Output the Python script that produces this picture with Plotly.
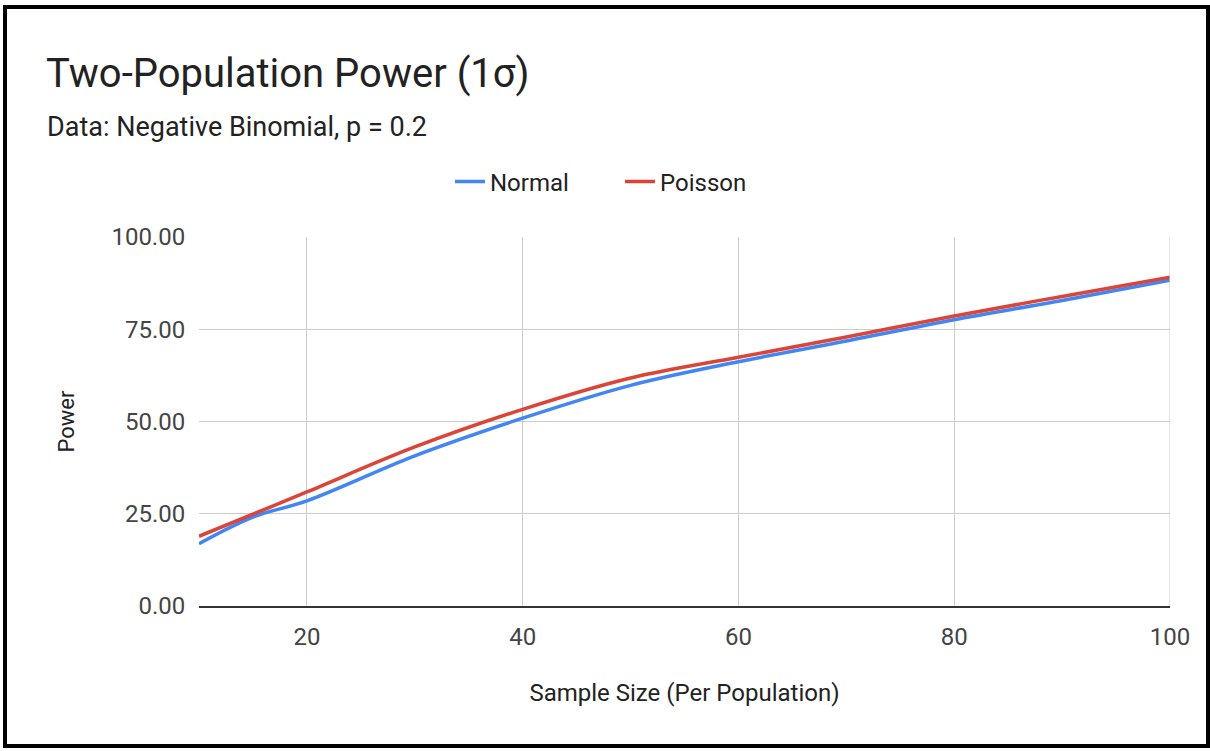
import plotly.graph_objs as go

# ------------------ dati ------------------
sample_size = [10, 15, 20, 30, 40, 50, 60, 70, 80, 90, 100]
power_normal = [16.9, 24.1, 28.5, 40.7, 50.9, 59.8, 66.2, 71.8, 77.6, 82.8, 88.3]
power_poisson = [18.9, 24.9, 30.9, 43.1, 53.3, 61.8, 67.4, 72.9, 78.6, 83.9, 89.1]
y_ticks = [0, 25, 50, 75, 100]
x_ticks = [20, 40, 60, 80, 100]

W, H = 1210, 751
L, R, T, B = 199, 40, 237, 145
pw, ph = W - L - R, H - T - B

FONT = "Roboto, Arial, sans-serif"

fig = go.Figure()
fig.add_trace(go.Scatter(
    x=sample_size, y=power_normal, name="Normal", mode="lines",
    line=dict(color="#4285F4", width=3.5, shape="spline", smoothing=1)
))
fig.add_trace(go.Scatter(
    x=sample_size, y=power_poisson, name="Poisson", mode="lines",
    line=dict(color="#DB4437", width=3.5, shape="spline", smoothing=1)
))

fig.update_layout(
    width=W, height=H,
    margin=dict(l=L, r=R, t=T, b=B),
    paper_bgcolor="white", plot_bgcolor="white",
    font=dict(family=FONT, size=24, color="#222222"),
    showlegend=True,
    legend=dict(orientation="h", x=(620 - L) / pw, xanchor="center",
                y=1.0 + (T - 182) / ph, yanchor="middle",
                font=dict(size=24, color="#222222"),
                itemwidth=30, entrywidth=125, traceorder="normal"),
    xaxis=dict(
        range=[10, 100], tickvals=x_ticks, showgrid=True, gridcolor="#cccccc",
        gridwidth=1, zeroline=False, showline=True, linecolor="#333333", linewidth=2,
        ticks="outside", ticklen=8, tickcolor="rgba(0,0,0,0)",
        tickfont=dict(size=24, color="#444444"),
        title=dict(text="Sample Size (Per Population)", font=dict(size=24, color="#222222"),
                   standoff=34),
    ),
    yaxis=dict(
        range=[0, 100], tickvals=y_ticks, tickformat=".2f", showgrid=True,
        gridcolor="#cccccc", gridwidth=1, zeroline=False, showline=False,
        ticks="outside", ticklen=8, tickcolor="rgba(0,0,0,0)",
        tickfont=dict(size=24, color="#444444"),
        title=dict(text="Power", font=dict(size=22, color="#222222"), standoff=30),
    ),
)

# titolo e sottotitolo
fig.add_annotation(text="Two-Population Power (1σ)", xref="paper", yref="paper",
                   x=(44 - L) / pw, y=1 + (T - 73) / ph, xanchor="left", yanchor="middle",
                   showarrow=False, font=dict(size=40, color="#222222", family=FONT))
fig.add_annotation(text="Data: Negative Binomial, p = 0.2", xref="paper", yref="paper",
                   x=(45 - L) / pw, y=1 + (T - 127) / ph, xanchor="left", yanchor="middle",
                   showarrow=False, font=dict(size=27, color="#222222", family=FONT))

# linea verticale a x=100 e bordo nero
fig.add_shape(type="line", xref="x", yref="paper", x0=100, x1=100, y0=0, y1=1,
              line=dict(color="#cccccc", width=1))
fig.add_shape(type="rect", xref="paper", yref="paper",
              x0=(5 - L) / pw, x1=(1208 - L) / pw,
              y0=1 + (T - 746) / ph, y1=1 + (T - 7) / ph,
              line=dict(color="black", width=4), fillcolor="rgba(0,0,0,0)")

fig.write_html("out.html", config={"displayModeBar": False},
               post_script="document.body.style.margin='0';")
